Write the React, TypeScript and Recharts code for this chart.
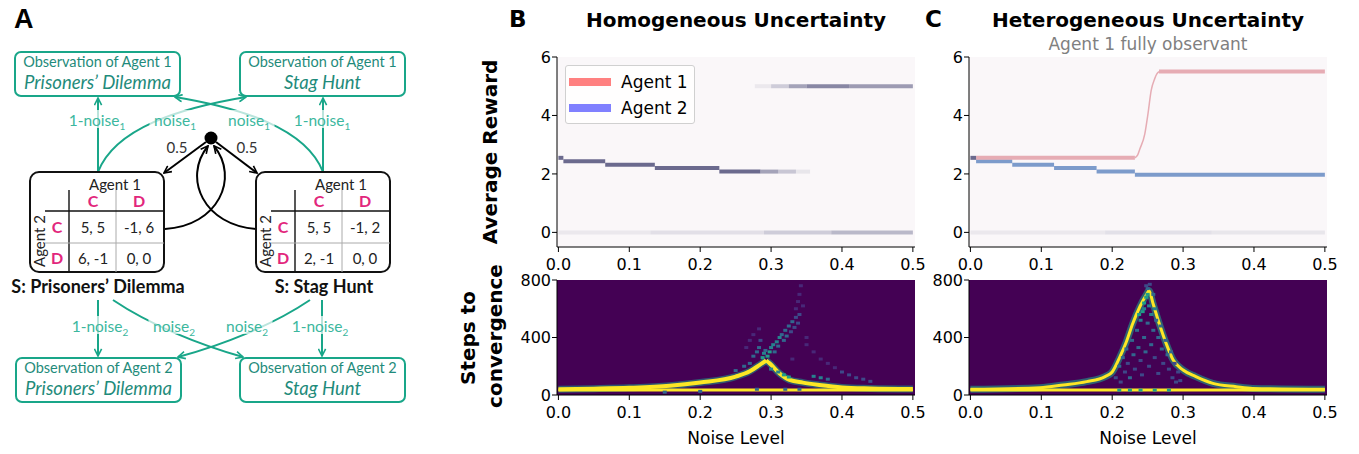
import React from "react";
import { CartesianGrid, ComposedChart, Legend, Line, Scatter, XAxis, YAxis } from "recharts";

// shared axes
const noiseTicks = [0, 0.1, 0.2, 0.3, 0.4, 0.5];
const rewardTicks = [0, 2, 4, 6];
const stepTicks = [0, 400, 800];

// [noise start, noise end, average reward, density 0..1]
type Seg = [number, number, number, number];

// B top: both agents get the same reward, so the two histograms overlap
const homSharedSegs: Seg[] = [
  [0, 0.007, 2.55, 1],
  [0.007, 0.066, 2.43, 1],
  [0.066, 0.136, 2.31, 1],
  [0.136, 0.227, 2.2, 1],
  [0.227, 0.285, 2.08, 1],
  [0.285, 0.31, 2.08, 0.6],
  [0.31, 0.335, 2.08, 0.35],
  [0.335, 0.355, 2.08, 0.12],
  [0.277, 0.3, 5.0, 0.1],
  [0.3, 0.325, 5.0, 0.3],
  [0.325, 0.35, 5.0, 0.6],
  [0.35, 0.41, 5.0, 0.8],
  [0.41, 0.5, 5.0, 0.65],
];
const homZeroSegs: Seg[] = [
  [0, 0.13, 0, 0.1],
  [0.13, 0.29, 0, 0.17],
  [0.29, 0.385, 0, 0.3],
  [0.385, 0.5, 0, 0.45],
];

// C top: agent 1 fully observant
const hetSharedSegs: Seg[] = [[0, 0.008, 2.55, 1]];
const hetAgent1Segs: Seg[] = [
  [0.008, 0.232, 2.55, 1],
  [0.266, 0.5, 5.5, 1],
];
const hetAgent1Rise: [number, number][] = [
  [0.232, 2.55], [0.236, 2.65], [0.239, 2.85], [0.246, 3.37], [0.2505, 4.06],
  [0.255, 4.86], [0.26, 5.26], [0.263, 5.42], [0.266, 5.5],
];
const hetAgent2Segs: Seg[] = [
  [0.008, 0.059, 2.43, 1],
  [0.059, 0.118, 2.31, 1],
  [0.118, 0.178, 2.2, 1],
  [0.178, 0.232, 2.08, 1],
  [0.232, 0.5, 1.97, 1],
];
const hetZeroSegs: Seg[] = [
  [0, 0.19, 0, 0.1],
  [0.19, 0.34, 0, 0.16],
  [0.34, 0.5, 0, 0.12],
];

// steps to convergence: dense ridges [noise, steps]
const homBaseline: [number, number][] = [[0, 34], [0.5, 34]];
const homRise: [number, number][] = [
  [0, 40], [0.05, 44], [0.1, 50], [0.157, 64], [0.2, 87], [0.25, 128],
  [0.27, 165], [0.284, 210], [0.293, 240],
];
const homFall: [number, number][] = [
  [0.293, 240], [0.298, 220], [0.312, 150], [0.326, 105], [0.345, 86],
  [0.368, 70], [0.4, 53], [0.44, 46], [0.5, 42],
];
// sparse histogram cells [noise, steps, density 0..1]
const homCells: [number, number, number][] = [
  [0.275, 270, 0.3], [0.28, 300, 0.35], [0.283, 330, 0.3], [0.285, 380, 0.25],
  [0.288, 260, 0.5], [0.29, 290, 0.45], [0.292, 310, 0.35], [0.295, 270, 0.55],
  [0.298, 300, 0.5], [0.3, 330, 0.45], [0.303, 350, 0.4], [0.305, 300, 0.35],
  [0.308, 370, 0.45], [0.31, 340, 0.3], [0.312, 400, 0.4], [0.315, 420, 0.35],
  [0.318, 380, 0.3], [0.32, 450, 0.35], [0.322, 410, 0.3], [0.325, 480, 0.3],
  [0.328, 440, 0.25], [0.33, 510, 0.3], [0.333, 470, 0.25], [0.335, 540, 0.25],
  [0.338, 500, 0.2], [0.34, 560, 0.2], [0.335, 600, 0.15], [0.338, 650, 0.12],
  [0.34, 700, 0.12], [0.342, 760, 0.1], [0.345, 620, 0.12],
  [0.27, 220, 0.35], [0.262, 200, 0.3], [0.25, 170, 0.3], [0.3, 180, 0.4],
  [0.31, 160, 0.45], [0.318, 140, 0.5], [0.325, 125, 0.55],
  [0.36, 300, 0.12], [0.37, 250, 0.12], [0.38, 220, 0.15], [0.39, 190, 0.15],
  [0.4, 160, 0.18], [0.41, 140, 0.2], [0.42, 120, 0.2], [0.43, 110, 0.2],
  [0.44, 95, 0.22], [0.36, 130, 0.4], [0.37, 120, 0.4], [0.38, 110, 0.35],
  [0.33, 250, 0.15], [0.35, 400, 0.1], [0.35, 350, 0.12],
  [0.27, 380, 0.12], [0.265, 330, 0.12], [0.275, 420, 0.1], [0.283, 460, 0.1],
  [0.15, 20, 0.35], [0.2, 25, 0.3], [0.28, 40, 0.3], [0.32, 40, 0.3], [0.34, 40, 0.3],
];

const hetBaseline: [number, number][] = [[0, 34], [0.5, 34]];
const hetCurve: [number, number][] = [
  [0, 40], [0.098, 51], [0.131, 70], [0.164, 93], [0.19, 128], [0.2, 160],
  [0.211, 267], [0.22, 371], [0.229, 498], [0.239, 614], [0.248, 696], [0.252, 725],
  [0.2575, 638], [0.267, 487], [0.276, 360], [0.286, 243], [0.3, 174], [0.318, 128],
  [0.342, 81], [0.375, 58], [0.398, 46], [0.5, 40],
];
const hetCells: [number, number, number][] = [
  [0.205, 120, 0.25], [0.21, 200, 0.3], [0.212, 90, 0.25], [0.215, 260, 0.3],
  [0.218, 160, 0.25], [0.22, 320, 0.35], [0.222, 220, 0.25], [0.225, 120, 0.3],
  [0.228, 380, 0.35], [0.23, 280, 0.3], [0.232, 180, 0.25], [0.235, 450, 0.35],
  [0.237, 330, 0.3], [0.24, 520, 0.4], [0.24, 240, 0.25], [0.242, 140, 0.25],
  [0.245, 600, 0.45], [0.245, 400, 0.3], [0.247, 300, 0.3], [0.248, 680, 0.5],
  [0.25, 740, 0.35], [0.25, 500, 0.3], [0.252, 620, 0.45], [0.252, 200, 0.25],
  [0.255, 560, 0.4], [0.255, 350, 0.3], [0.258, 700, 0.3], [0.258, 450, 0.3],
  [0.26, 600, 0.4], [0.26, 260, 0.25], [0.262, 520, 0.35], [0.265, 400, 0.3],
  [0.265, 150, 0.25], [0.268, 480, 0.35], [0.27, 320, 0.3], [0.272, 220, 0.25],
  [0.275, 380, 0.3], [0.278, 280, 0.3], [0.28, 180, 0.25], [0.283, 300, 0.3],
  [0.285, 120, 0.25], [0.288, 220, 0.25], [0.29, 90, 0.25], [0.293, 160, 0.25],
  [0.296, 100, 0.25], [0.253, 770, 0.2], [0.248, 760, 0.2],
  [0.245, 640, 0.55], [0.25, 700, 0.6], [0.243, 580, 0.55], [0.238, 560, 0.5],
  [0.21, 34, 0.6], [0.225, 34, 0.55], [0.24, 34, 0.6], [0.26, 34, 0.55], [0.28, 34, 0.6],
];

const legendItems = [
  { label: "Agent 1", color: "#ff8080" },
  { label: "Agent 2", color: "#8080ff" },
];

const X_DOMAIN: [number, number] = [-0.002, 0.503];
const FONT = "'DejaVu Sans', sans-serif";
const SHARED = "#6b6a8e";
const RED = "#e6acb4";
const BLUE = "#7c9bcb";

const VIRIDIS = ["#440154", "#482878", "#3e4989", "#31688e", "#26828e", "#1f9e89", "#35b779", "#6ece58", "#b5de2b", "#fde725"];
function viridis(t: number) {
  const i = Math.max(0, Math.min(VIRIDIS.length - 1, Math.round(t * (VIRIDIS.length - 1))));
  return VIRIDIS[i];
}

const fmtNoise = (v: number) => v.toFixed(1);

function segLines(segs: Seg[], color: string, width: number, key: string) {
  return segs.map(([a, b, r, d], i) => (
    <Line
      key={key + i}
      data={[{ x: a, y: r }, { x: b, y: r }]}
      dataKey="y"
      stroke={color}
      strokeOpacity={d}
      strokeWidth={width}
      strokeLinecap="butt"
      dot={false}
      activeDot={false}
      isAnimationActive={false}
    />
  ));
}

function ridge(pts: [number, number][], color: string, width: number, key: string, opacity = 1) {
  return (
    <Line
      key={key}
      data={pts.map(([x, y]) => ({ x, y }))}
      dataKey="y"
      type="monotone"
      stroke={color}
      strokeOpacity={opacity}
      strokeWidth={width}
      strokeLinejoin="round"
      dot={false}
      activeDot={false}
      isAnimationActive={false}
    />
  );
}

function cellShape(props: any) {
  const { cx, cy, payload } = props;
  if (cx == null || cy == null) return <g />;
  return <rect x={cx - 2} y={cy - 1.5} width={4} height={3} fill={viridis(payload.d)} />;
}

function LegendBox() {
  return (
    <div
      style={{
        background: "rgba(255,255,255,0.85)",
        border: "1px solid #d0d0d0",
        borderRadius: 3,
        padding: "3px 6px 2px 3px",
        fontFamily: FONT,
        fontSize: 17,
        color: "#000",
      }}
    >
      {legendItems.map((it) => (
        <div key={it.label} style={{ display: "flex", alignItems: "center", height: 26 }}>
          <span style={{ display: "inline-block", width: 42, height: 8, background: it.color, marginRight: 10 }} />
          {it.label}
        </div>
      ))}
    </div>
  );
}

const tickStyle = { fill: "#000", fontSize: 16, fontFamily: FONT };

function Frame({ yDomain, yTicks, xHeight, xLabel }: any) {
  return [
    <XAxis
      key="xb"
      dataKey="x"
      type="number"
      domain={X_DOMAIN}
      ticks={noiseTicks}
      interval={0}
      allowDataOverflow
      tickFormatter={fmtNoise}
      height={xHeight}
      tickSize={5}
      tickMargin={7}
      stroke="#000"
      tick={tickStyle}
      label={xLabel ? { value: xLabel, position: "insideBottom", offset: 6, fill: "#000", fontSize: 17, fontFamily: FONT } : undefined}
    />,
    <XAxis key="xt" xAxisId="top" orientation="top" type="number" domain={X_DOMAIN} height={0} tick={false} tickLine={false} stroke="#000" />,
    <YAxis
      key="yl"
      dataKey="y"
      type="number"
      domain={yDomain}
      ticks={yTicks}
      interval={0}
      allowDataOverflow
      width={40}
      tickSize={5}
      tickMargin={1}
      stroke="#000"
      tick={tickStyle}
    />,
    <YAxis key="yr" yAxisId="right" orientation="right" type="number" domain={yDomain} width={0} tick={false} tickLine={false} stroke="#000" />,
  ];
}

function RewardChart({ left, legend, children }: any) {
  return (
    <div style={{ position: "absolute", left, top: 47 }}>
      <ComposedChart width={408} height={232} margin={{ top: 10, right: 10, left: 0, bottom: 0 }}>
        <CartesianGrid horizontal={false} vertical={false} fill="#faf7f9" fillOpacity={1} stroke="none" />
        {Frame({ yDomain: [-0.5, 6], yTicks: rewardTicks, xHeight: 32 })}
        {children}
        {legend ? (
          <Legend
            layout="horizontal"
            align="center"
            verticalAlign="middle"
            wrapperStyle={{ left: 48, top: 18, width: "auto" }}
            content={() => <LegendBox />}
          />
        ) : null}
      </ComposedChart>
    </div>
  );
}

function StepsChart({ left, children }: any) {
  return (
    <div style={{ position: "absolute", left, top: 270 }}>
      <ComposedChart width={408} height={180} margin={{ top: 10, right: 10, left: 0, bottom: 0 }}>
        <CartesianGrid horizontal={false} vertical={false} fill="#440154" fillOpacity={1} stroke="none" />
        {Frame({ yDomain: [0, 800], yTicks: stepTicks, xHeight: 55, xLabel: "Noise Level" })}
        {children}
      </ComposedChart>
    </div>
  );
}

// ---------- Panel A schematic ----------
const TEAL = "#19a689";
const TEAL_TXT = "#1f8b7b";
const TEAL_LBL = "#3cb79e";
const PINK = "#e2267c";

function NoiseLabel({ x, y, text, sub }: { x: number; y: number; text: string; sub: string }) {
  const w = text.length * 7.8 + 12;
  return (
    <g>
      <rect x={x - w / 2} y={y - 11} width={w} height={18} fill="#fff" opacity={0.7} />
      <text x={x} y={y + 5} textAnchor="middle" fill={TEAL_LBL} fontSize={15.5}>
        {text}
        <tspan fontSize={10} dy={4}>{sub}</tspan>
      </text>
    </g>
  );
}

function ObsBox({ x, y, agent, game }: { x: number; y: number; agent: string; game: string }) {
  return (
    <g>
      <rect x={x} y={y} width={165} height={44} rx={6} fill="#fff" stroke={TEAL} strokeWidth={2} />
      <text x={x + 82.5} y={y + 15} textAnchor="middle" fill={TEAL_TXT} fontSize={14.5}>
        {agent}
      </text>
      <text x={x + 82.5} y={y + 37} textAnchor="middle" fill={TEAL_TXT} fontSize={18.5} fontStyle="italic">
        {game}
      </text>
    </g>
  );
}

function GameBox({ x, payoffs, name }: { x: number; payoffs: string[]; name: string }) {
  const y = 172;
  return (
    <g>
      <rect x={x} y={y} width={134} height={100} rx={9} fill="none" stroke="#111" strokeWidth={2} />
      <text x={x + 85} y={y + 18} textAnchor="middle" fontSize={15} fill="#222">Agent 1</text>
      <line x1={x + 39} y1={y + 18} x2={x + 39} y2={y + 100} stroke="#111" strokeWidth={1.4} />
      <line x1={x + 86} y1={y + 18} x2={x + 86} y2={y + 100} stroke="#aaa" strokeWidth={1} />
      <line x1={x + 15} y1={y + 39} x2={x + 134} y2={y + 39} stroke="#111" strokeWidth={1.4} />
      <line x1={x + 15} y1={y + 71} x2={x + 134} y2={y + 71} stroke="#aaa" strokeWidth={1} />
      <text x={x + 63} y={y + 35} textAnchor="middle" fontSize={16} fontWeight={700} fill={PINK}>C</text>
      <text x={x + 109} y={y + 35} textAnchor="middle" fontSize={16} fontWeight={700} fill={PINK}>D</text>
      <text x={x + 27} y={y + 61} textAnchor="middle" fontSize={16} fontWeight={700} fill={PINK}>C</text>
      <text x={x + 27} y={y + 92} textAnchor="middle" fontSize={16} fontWeight={700} fill={PINK}>D</text>
      <text x={x + 63} y={y + 61} textAnchor="middle" fontSize={15} fill="#222">{payoffs[0]}</text>
      <text x={x + 109} y={y + 61} textAnchor="middle" fontSize={15} fill="#222">{payoffs[1]}</text>
      <text x={x + 63} y={y + 92} textAnchor="middle" fontSize={15} fill="#222">{payoffs[2]}</text>
      <text x={x + 109} y={y + 92} textAnchor="middle" fontSize={15} fill="#222">{payoffs[3]}</text>
      <text x={x + 15} y={y + 69} textAnchor="middle" fontSize={15} fill="#222" transform={`rotate(-90 ${x + 15} ${y + 69})`}>
        Agent 2
      </text>
      <text x={x + 68} y={y + 121} textAnchor="middle" fontSize={18} fontWeight={700} fill="#111">{name}</text>
    </g>
  );
}

function PanelA() {
  return (
    <svg width={470} height={454} style={{ position: "absolute", left: 0, top: 0 }} fontFamily="Lato, 'Noto Sans', sans-serif">
      <defs>
        <marker id="arrT" viewBox="0 0 10 10" refX="9" refY="5" markerWidth="9" markerHeight="9" markerUnits="userSpaceOnUse" orient="auto">
          <path d="M1,1 L9,5 L1,9" fill="none" stroke={TEAL} strokeWidth="1.8" />
        </marker>
        <marker id="arrK" viewBox="0 0 10 10" refX="9" refY="5" markerWidth="9" markerHeight="9" markerUnits="userSpaceOnUse" orient="auto">
          <path d="M1,1 L9,5 L1,9" fill="none" stroke="#000" strokeWidth="1.8" />
        </marker>
      </defs>
      <text x={14} y={28} fontSize={27} fontWeight={700} fontFamily="'Liberation Sans', Arial, sans-serif">A</text>

      {/* upper teal arrows */}
      <g fill="none" stroke={TEAL} strokeWidth={2}>
        <path d="M98,172 L98,98" markerEnd="url(#arrT)" />
        <path d="M323,172 L323,98" markerEnd="url(#arrT)" />
        <path d="M98,172 C115,128 180,108 246,97" markerEnd="url(#arrT)" />
        <path d="M323,172 C306,128 241,108 175,97" markerEnd="url(#arrT)" />
      </g>
      <NoiseLabel x={97} y={121} text="1-noise" sub="1" />
      <NoiseLabel x={175} y={121} text="noise" sub="1" />
      <NoiseLabel x={249} y={121} text="noise" sub="1" />
      <NoiseLabel x={322} y={121} text="1-noise" sub="1" />

      {/* lower teal arrows */}
      <g fill="none" stroke={TEAL} strokeWidth={2}>
        <path d="M98,300 L98,356" markerEnd="url(#arrT)" />
        <path d="M322,300 L322,356" markerEnd="url(#arrT)" />
        <path d="M113,300 C150,325 200,345 243,357" markerEnd="url(#arrT)" />
        <path d="M310,300 C273,325 223,345 178,357" markerEnd="url(#arrT)" />
      </g>
      <NoiseLabel x={100} y={327} text="1-noise" sub="2" />
      <NoiseLabel x={174} y={327} text="noise" sub="2" />
      <NoiseLabel x={247} y={327} text="noise" sub="2" />
      <NoiseLabel x={320} y={327} text="1-noise" sub="2" />

      {/* black transition arrows */}
      <g fill="none" stroke="#000" strokeWidth={2}>
        <path d="M206,142 L164,173" markerEnd="url(#arrK)" />
        <path d="M216,142 L257,173" markerEnd="url(#arrK)" />
        <path d="M165,229 C218,226 240,178 214,146" markerEnd="url(#arrK)" />
        <path d="M257,229 C204,226 182,178 208,146" markerEnd="url(#arrK)" />
      </g>
      <circle cx={211} cy={138} r={6.5} fill="#000" />
      <text x={177} y={153} textAnchor="middle" fontSize={15} fill="#333">0.5</text>
      <text x={247} y={153} textAnchor="middle" fontSize={15} fill="#333">0.5</text>

      <ObsBox x={15} y={52} agent="Observation of Agent 1" game="Prisoners’ Dilemma" />
      <ObsBox x={240} y={52} agent="Observation of Agent 1" game="Stag Hunt" />
      <ObsBox x={16} y={358} agent="Observation of Agent 2" game="Prisoners’ Dilemma" />
      <ObsBox x={240} y={358} agent="Observation of Agent 2" game="Stag Hunt" />

      <GameBox x={30} payoffs={["5, 5", "-1, 6", "6, -1", "0, 0"]} name="S: Prisoners’ Dilemma" />
      <GameBox x={256} payoffs={["5, 5", "-1, 2", "2, -1", "0, 0"]} name="S: Stag Hunt" />
    </svg>
  );
}

function Titles() {
  return (
    <svg width={1359} height={454} style={{ position: "absolute", left: 0, top: 0 }} fontFamily={FONT}>
      <text x={509} y={27} fontSize={23} fontWeight={700}>B</text>
      <text x={736} y={27} textAnchor="middle" fontSize={20} fontWeight={700}>Homogeneous Uncertainty</text>
      <text x={925} y={27} fontSize={23} fontWeight={700}>C</text>
      <text x={1148} y={27} textAnchor="middle" fontSize={20} fontWeight={700}>Heterogeneous Uncertainty</text>
      <text x={1148} y={50} textAnchor="middle" fontSize={17} fill="#808080">Agent 1 fully observant</text>
      <text x={497} y={152} textAnchor="middle" fontSize={20} fontWeight={700} transform="rotate(-90 497 152)">Average Reward</text>
      <text x={475} y={338} textAnchor="middle" fontSize={20} fontWeight={700} transform="rotate(-90 475 338)">Steps to</text>
      <text x={502} y={336} textAnchor="middle" fontSize={20} fontWeight={700} transform="rotate(-90 502 336)">convergence</text>
    </svg>
  );
}

const cellData = (cells: [number, number, number][]) => cells.map(([x, y, d]) => ({ x, y, d }));

export default function App() {
  return (
    <div style={{ position: "absolute", left: 0, top: 0, width: 1359, height: 454, background: "#fff", overflow: "hidden" }}>
      <PanelA />
      <Titles />

      <RewardChart left={517} legend>
        {segLines(homZeroSegs, SHARED, 4, "hz")}
        {segLines(homSharedSegs, SHARED, 4, "hs")}
      </RewardChart>

      <RewardChart left={929}>
        {segLines(hetZeroSegs, SHARED, 4, "cz")}
        {segLines(hetAgent2Segs, BLUE, 4, "c2")}
        {segLines(hetAgent1Segs, RED, 4, "c1")}
        {ridge(hetAgent1Rise, RED, 1.5, "c1r")}
        {segLines(hetSharedSegs, SHARED, 4, "cs")}
      </RewardChart>

      <StepsChart left={517}>
        {ridge(homRise, "#1f9e89", 7, "hrg", 0.55)}
        {ridge(homFall, "#1f9e89", 7, "hfg", 0.55)}
        <Scatter data={cellData(homCells)} shape={cellShape} isAnimationActive={false} />
        {ridge(homBaseline, "#fde725", 3, "hb")}
        {ridge(homRise, "#fde725", 4, "hr")}
        {ridge(homFall, "#fde725", 4, "hf")}
      </StepsChart>

      <StepsChart left={929}>
        {ridge(hetCurve, "#1f9e89", 7, "hcg", 0.6)}
        <Scatter data={cellData(hetCells)} shape={cellShape} isAnimationActive={false} />
        {ridge(hetBaseline, "#fde725", 3, "cb")}
        {ridge(hetCurve, "#fde725", 3, "cc")}
      </StepsChart>
    </div>
  );
}
